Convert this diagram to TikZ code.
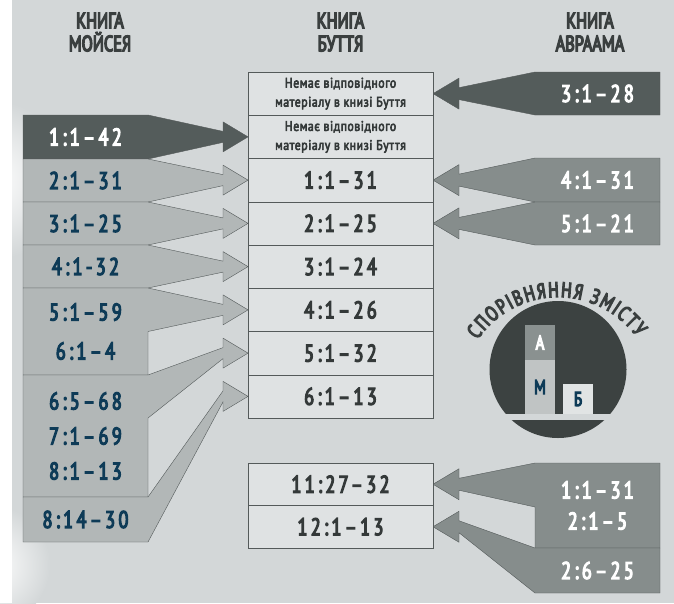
\documentclass[tikz,border=0pt]{standalone}
\usepackage{fontspec}
\setmainfont{PT Sans}
\newfontfamily\condfont{PT Sans}[FakeStretch=0.74,FakeBold=6]
\newfontfamily\numfont{PT Sans}[FakeStretch=0.76,FakeBold=5,LetterSpace=14]
\newfontfamily\notefont{PT Sans}[FakeStretch=0.84,FakeBold=4,LetterSpace=4]
\usetikzlibrary{positioning,calc,decorations.text}
\definecolor{bgc}{HTML}{D3D7D8}
\definecolor{edge}{HTML}{545A5A}
\definecolor{rowfill}{HTML}{DFE2E3}
\definecolor{rowtext}{HTML}{343939}
\definecolor{headtext}{HTML}{3A3F3F}
\definecolor{darkfill}{HTML}{545C5B}
\definecolor{lightfill}{HTML}{B2B7B7}
\definecolor{midfill}{HTML}{868D8C}
\definecolor{numblue}{HTML}{0E3B57}
\definecolor{circfill}{HTML}{3C4241}
\definecolor{afill}{HTML}{8A9190}
\definecolor{mfill}{HTML}{C0C4C4}
\definecolor{bfill}{HTML}{E1E4E4}
\pgfdeclarelayer{back}
\pgfdeclarelayer{shapes}
\pgfsetlayers{back,shapes,main}
\begin{document}
\begin{tikzpicture}
[x=1pt,y=-1pt,%
  every node/.style={inner sep=0pt,outer sep=0pt},%
  row/.style={draw=edge,fill=rowfill,minimum width=185pt,minimum height=43.25pt,
    text=rowtext,font=\numfont\fontsize{24}{24}\selectfont},%
  note/.style={row,align=center,font=\notefont\fontsize{14}{19}\selectfont},%
  tail/.style={minimum width=125pt,align=center,
    font=\numfont\fontsize{24}{35}\selectfont},%
  moses/.style={tail,text=numblue},%
  abr/.style={tail,text=white},%
  darkblk/.style={fill=darkfill,draw=edge},%
  lightblk/.style={fill=lightfill,draw=edge},%
  midblk/.style={fill=midfill,draw=edge},%
  headE/.style={insert path={-- ($(#1.west)+(-25,-5.5)$) -- ($(#1.west)+(-25,-15)$)
    -- (#1.west) -- ($(#1.west)+(-25,15)$) -- ($(#1.west)+(-25,5.5)$)}},%
  headW/.style={insert path={-- ($(#1.east)+(26,-6)$) -- ($(#1.east)+(26,-15.5)$)
    -- (#1.east) -- ($(#1.east)+(26,15.5)$) -- ($(#1.east)+(26,6)$)}},%
  title/.style={align=center,text=headtext,font=\condfont\fontsize{22}{23}\selectfont},%
  bar/.style={minimum width=30pt,font=\condfont\fontsize{20}{20}\selectfont}]
\useasboundingbox (0,0) rectangle (674,603);
\begin{pgfonlayer}{back}
  \fill[bgc] (0,0) rectangle (674,603);
  \shade[inner color=white,outer color=bgc] (-10,180) circle (80);
  \shade[inner color=white,outer color=bgc] (-10,565) circle (60);
  \fill[white] (0,0) rectangle (12,603);
\end{pgfonlayer}
% titles
\node[title] (hm) at (100,32) {КНИГА\\МОЙСЕЯ};
\node[title] (hb) at (340.5,32) {КНИГА\\БУТТЯ};
\node[title] (ha) at (590,32) {КНИГА\\АВРААМА};
% Genesis column
\node[note] (b1) at (340.5,93.625) {Немає відповідного\\матеріалу в книзі Буття};
\node[note,below=0pt of b1] (b2) {Немає відповідного\\матеріалу в книзі Буття};
\node[row,below=0pt of b2] (b3) {1:1–31};
\node[row,below=0pt of b3] (b4) {2:1–25};
\node[row,below=0pt of b4] (b5) {3:1–24};
\node[row,below=0pt of b5] (b6) {4:1–26};
\node[row,below=0pt of b6] (b7) {5:1–32};
\node[row,below=0pt of b7] (b8) {6:1–13};
\node[row,minimum height=42.5pt] (b9) at (340.5,484.25) {11:27–32};
\node[row,minimum height=42.5pt,below=0pt of b9] (b10) {12:1–13};
% Moses column
\node[moses,text=white,minimum height=44pt] (m1) at (85.5,137) {1:1–42};
\node[moses,minimum height=43pt] (m2) at (85.5,180.5) {2:1–31};
\node[moses,minimum height=43pt] (m3) at (85.5,223.5) {3:1–25};
\node[moses,minimum height=43pt] (m4) at (85.5,266.5) {4:1-32};
\node[moses,minimum height=87pt] (m5) at (85.5,331.5) {5:1–59\\[4pt]6:1–4};
\node[moses,minimum height=122pt] (m6) at (85.5,436) {6:5–68\\7:1–69\\8:1–13};
\node[moses,minimum height=45pt] (m7) at (85.5,519.5) {8:14–30};
% Abraham column
\node[abr,minimum height=43pt] (a1) at (597.5,93.5) {3:1–28};
\node[abr,minimum height=44pt] (a2) at (597.5,180) {4:1–31};
\node[abr,minimum height=43pt] (a3) at (597.5,223.5) {5:1–21};
\node[abr,minimum height=85pt] (a4) at (597.5,505.5) {1:1–31\\[-4pt]2:1–5};
\node[abr,minimum height=45pt] (a5) at (597.5,570.5) {2:6–25};
\begin{pgfonlayer}{shapes}
  \draw[darkblk] (m1.north west) -- (m1.north east) [headE=b2] -- (m1.south east) -- (m1.south west) -- cycle;
  \draw[lightblk] (m2.north west) -- (m2.north east) [headE=b3] -- (m2.south east) -- (m2.south west) -- cycle;
  \draw[lightblk] (m3.north west) -- (m3.north east) [headE=b4] -- (m3.south east) -- (m3.south west) -- cycle;
  \draw[lightblk] (m4.north west) -- (m4.north east) [headE=b5] -- (m4.south east) -- (m4.south west) -- cycle;
  \draw[lightblk] (m5.north west) -- (m5.north east) [headE=b6] -- ($(m5.north east)+(0,43.5)$)
    -- (m5.south east) -- (m5.south west) -- cycle;
  \draw[lightblk] (m6.north west) -- (m6.north east) [headE=b7] -- ($(m6.north east)+(0,43)$)
    -- (m6.south east) -- (m6.south west) -- cycle;
  \draw[lightblk] (m7.north west) -- (m7.north east) [headE=b8] -- (m7.south east) -- (m7.south west) -- cycle;
  \draw[darkblk] (a1.north east) -- (a1.north west) [headW=b1] -- (a1.south west) -- (a1.south east) -- cycle;
  \draw[midblk] (a2.north east) -- (a2.north west) [headW=b3] -- (a2.south west) -- (a2.south east) -- cycle;
  \draw[midblk] (a3.north east) -- (a3.north west) [headW=b4] -- (a3.south west) -- (a3.south east) -- cycle;
  \draw[midblk] (a4.north east) -- (a4.north west) [headW=b9] -- ($(a4.north west)+(0,44)$)
    -- (a4.south west) -- (a4.south east) -- cycle;
  \draw[midblk] (a5.north east) -- (a5.north west) [headW=b10] -- (a5.south west) -- (a5.south east) -- cycle;
\end{pgfonlayer}
% comparison badge
\fill[circfill] (558,369.5) circle (68.5);
\fill[bgc] (485,414) rectangle (632,420);
\node[bar,fill=afill,text=white,minimum height=35pt] (ba) at (540,342.5) {А};
\node[bar,fill=mfill,text=numblue,minimum height=54pt] (bm) at (540,387) {М};
\node[bar,fill=bfill,text=numblue,minimum height=30pt] (bb) at (578,399) {Б};
\path[decorate,decoration={text along path,text align={fit to path},
  text={|\condfont\fontsize{21}{21}\selectfont\color{headtext}|СПОРІВНЯННЯ ЗМІСТУ}}]
  (558,394) ++(-146:97) arc[start angle=-146,end angle=-36,radius=97];
\end{tikzpicture}
\end{document}
